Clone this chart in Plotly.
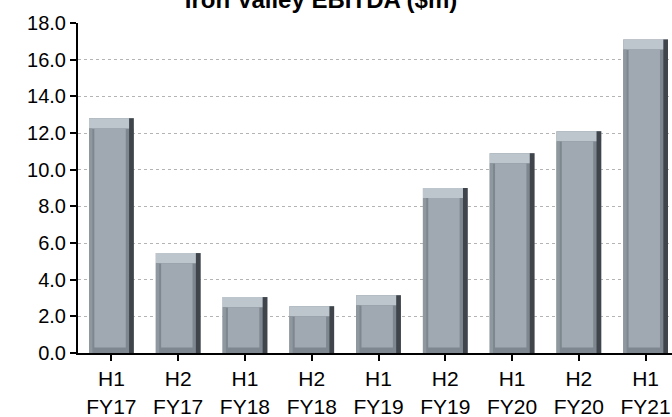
import plotly.graph_objects as go

categories = ["H1<br>FY17", "H2<br>FY17", "H1<br>FY18", "H2<br>FY18", "H1<br>FY19",
              "H2<br>FY19", "H1<br>FY20", "H2<br>FY20", "H1<br>FY21"]
ebitda = [12.8, 5.45, 3.05, 2.55, 3.15, 9.0, 10.9, 12.1, 17.1]
y_ticks = [0, 2, 4, 6, 8, 10, 12, 14, 16, 18]

x = list(range(len(categories)))
W = 0.67
bevel = 0.55

fig = go.Figure()
# outer body (bottom bevel tone)
fig.add_trace(go.Bar(x=x, y=ebitda, width=W, marker=dict(color="#7e878f", line=dict(width=0)),
                     hoverinfo="skip"))
# top bevel highlight
fig.add_trace(go.Bar(x=x, y=[bevel] * len(ebitda), base=[v - bevel for v in ebitda], width=W,
                     marker=dict(color="#bdc6cd", line=dict(width=0)), hoverinfo="skip"))
# left edge
fig.add_trace(go.Bar(x=x, y=[v - bevel for v in ebitda], width=0.05, offset=-W / 2,
                     marker=dict(color="#8f989f", line=dict(width=0)), hoverinfo="skip"))
# right dark edge
fig.add_trace(go.Bar(x=x, y=ebitda, width=0.07, offset=W / 2 - 0.07,
                     marker=dict(color="#3f454b", line=dict(width=0)), hoverinfo="skip"))
# face
fig.add_trace(go.Bar(x=x, y=[v - bevel - 0.3 for v in ebitda], base=0.3, width=W - 0.2,
                     offset=-W / 2 + 0.08,
                     marker=dict(color="#a0a9b1", line=dict(width=0)), hoverinfo="skip"))

fig.update_layout(
    width=672, height=417,
    margin=dict(l=78, r=0, t=23, b=64),
    barmode="overlay",
    showlegend=False,
    plot_bgcolor="white", paper_bgcolor="white",
    font=dict(family="Liberation Sans, Arial, sans-serif", size=20, color="black"),
    title=dict(text="<b>Iron Valley EBITDA ($m)</b>", xref="container", yref="container",
               x=321 / 672, xanchor="center", y=1, yanchor="middle",
               font=dict(size=24, color="black")),
)
fig.update_xaxes(
    tickmode="array", tickvals=x, ticktext=categories,
    range=[-0.5, 8.395], tickson="boundaries",
    tickfont=dict(size=21),
    showline=True, linecolor="black", linewidth=2,
    ticks="outside", ticklen=6, tickcolor="black", tickwidth=2,
    showgrid=False, zeroline=False,
)
fig.update_yaxes(
    range=[0, 18], tickvals=y_ticks, tickformat=".1f",
    tickfont=dict(size=20),
    showline=True, linecolor="black", linewidth=2,
    ticks="outside", ticklen=6, tickcolor="black", tickwidth=2,
    showgrid=True, gridcolor="#b4b4b4", griddash="dot", gridwidth=1,
    zeroline=False,
)

fig.write_html("out.html")
